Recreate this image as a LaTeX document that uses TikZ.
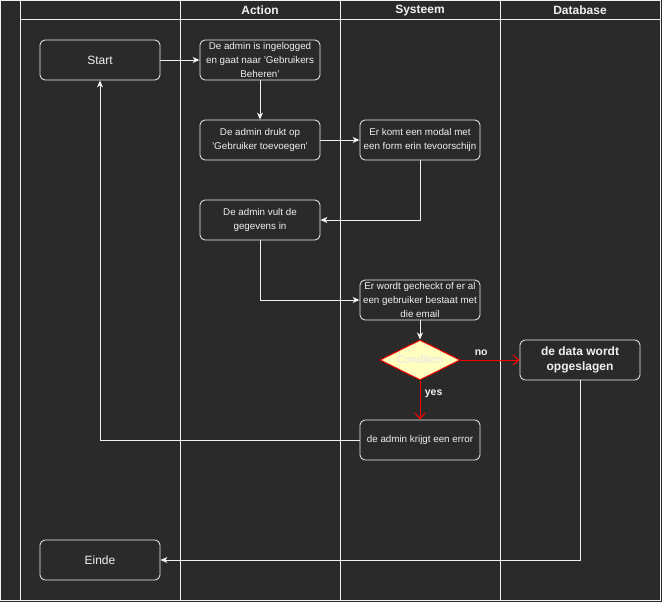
\documentclass[tikz,border=0pt]{standalone}
\usepackage{fontspec}
\setmainfont{Liberation Sans}
\usetikzlibrary{shapes.geometric,arrows.meta}
\definecolor{bg}{HTML}{2A2A2A}
\definecolor{ink}{HTML}{F0F0F0}
\definecolor{cond}{HTML}{FFFFC0}
\definecolor{condtext}{HTML}{E4E4EC}
\begin{document}
\begin{tikzpicture}[x=1pt,y=-1pt,
  lane/.style={draw=ink,line width=1pt},
  box/.style={draw=ink,fill=bg,rounded corners=5pt,line width=0.8pt,
    minimum width=120pt,minimum height=40pt,inner sep=1pt,
    text=ink,align=center,font=\fontsize{9.8}{14}\selectfont},
  bigbox/.style={box,font=\fontsize{12}{15}\selectfont\bfseries},
  termbox/.style={box,font=\fontsize{12}{14}\selectfont},
  head/.style={text=ink,font=\fontsize{12}{14}\selectfont\bfseries},
  flow/.style={draw=ink,line width=0.8pt,-{Stealth[length=7pt,width=6pt,inset=2pt]}},
  decide/.style={draw=red,line width=1pt,-{Straight Barb[length=6pt,width=10pt]}},
  lbl/.style={text=ink,font=\fontsize{10.5}{12}\selectfont\bfseries}]
% canvas and swimlanes
\fill[bg] (0,0) rectangle (662,602);
\useasboundingbox (0,0) rectangle (662,602);
\draw[lane] (0.5,0.5) rectangle (660.5,600);
\draw[lane] (20,0.5) -- (20,600);
\draw[lane] (180,0.5) -- (180,600);
\draw[lane] (340,0.5) -- (340,600);
\draw[lane] (500,0.5) -- (500,600);
\draw[lane] (20,20) -- (660.5,20);
\node[head] (hAction) at (260,10.5) {Action};
\node[head] (hSys) at (420,10.5) {Systeem};
\node[head] (hDb) at (580,10.5) {Database};
% steps
\node[termbox] (start) at (100,60) {Start};
\node[box] (a1) at (260,60) {De admin is ingelogged\\en gaat naar 'Gebruikers\\Beheren'};
\node[box] (a2) at (260,140) {De admin drukt op\\'Gebruiker toevoegen'};
\node[box] (s1) at (420,140) {Er komt een modal met\\een form erin tevoorschijn};
\node[box] (a3) at (260,220) {De admin vult de\\gegevens in};
\node[box] (s2) at (420,300) {Er wordt gecheckt of er al\\een gebruiker bestaat met\\die email};
\node[diamond,draw=red,fill=cond,line width=1pt,minimum width=80pt,minimum height=40pt,
  inner sep=0pt,aspect=2,text=condtext,font=\fontsize{11}{13}\selectfont] (c) at (420,360) {Condition};
\node[bigbox] (d1) at (580,360) {de data wordt\\opgeslagen};
\node[box] (s3) at (420,440) {de admin krijgt een error};
\node[termbox] (end) at (100,560) {Einde};
% connectors
\draw[flow] (start.east) -- (a1.west);
\draw[flow] (a1.south) -- (a2.north);
\draw[flow] (a2.east) -- (s1.west);
\draw[flow] (s1.south) |- (a3.east);
\draw[flow] (a3.south) |- (s2.west);
\draw[flow] (s2.south) -- (c.north);
\draw[decide] (c.east) -- node[lbl,above=1pt,pos=0.35] {no} (d1.west);
\draw[decide] (c.south) -- node[lbl,right=1pt,pos=0.35] {yes} (s3.north);
\draw[flow] (s3.west) -| (start.south);
\draw[flow] (d1.south) |- (end.east);
\end{tikzpicture}
\end{document}
